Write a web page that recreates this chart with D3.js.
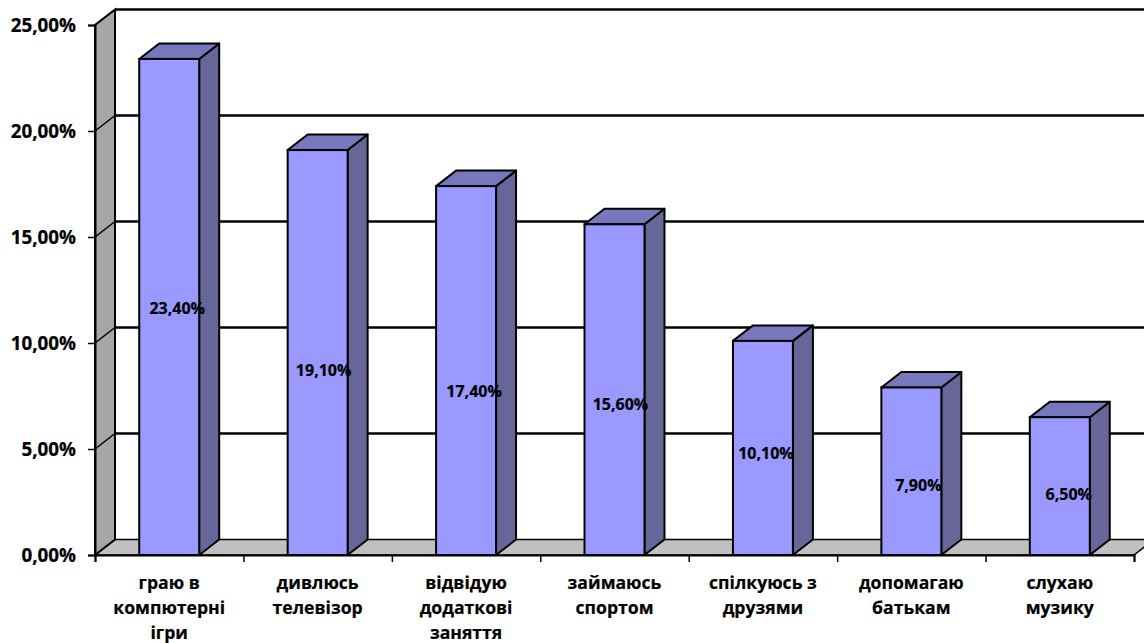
<!DOCTYPE html>
<html>
<head>
<meta charset="utf-8">
<script src="https://cdn.jsdelivr.net/npm/d3@7/dist/d3.min.js"></script>
<style>
body { margin: 0; background: #fff; overflow: hidden; }
svg { display: block; }
text { font-family: "Open Sans", sans-serif; font-weight: 700; fill: #000; stroke: #000; stroke-width: 0.2px; }
</style>
</head>
<body>
<div id="chart"></div>
<script>
var categories = [
	["граю в", "компютерні", "ігри"],
	["дивлюсь", "телевізор"],
	["відвідую", "додаткові", "заняття"],
	["займаюсь", "спортом"],
	["спілкуюсь з", "друзями"],
	["допомагаю", "батькам"],
	["слухаю", "музику"]
];
var values = [23.4, 19.1, 17.4, 15.6, 10.1, 7.9, 6.5];
var yTicks = [0, 5, 10, 15, 20, 25];

var svg_width = 1144;
var svg_height = 643;
var svg = d3.select("#chart").append("svg").attr("width", svg_width).attr("height", svg_height);

var left = 95, right = 1134, bottom = 555, top_ = 25;
var dx = 20, dy = -15.5;   // depth of the fake 3d box

var y = d3.scaleLinear().domain([0, 25]).range([bottom, top_]);
var x = d3.scaleBand().domain(d3.range(categories.length)).range([left, right])
	.paddingInner(0.596).paddingOuter(0.298);
var xEdge = d3.scaleLinear().domain([0, categories.length]).range([left, right]);

function pct(d) {
	return d3.format(".2f")(d).replace(".", ",") + "%";
}
function poly(pts) {
	return pts.map(function(p) { return p.join(","); }).join(" ");
}

// floor
svg.append("polygon")
	.attr("points", poly([[left, bottom], [left + dx, bottom + dy], [right + dx, bottom + dy], [right, bottom]]))
	.attr("fill", "#c0c0c0").attr("stroke", "#000").attr("stroke-width", 1.5);

// side wall
svg.append("polygon")
	.attr("points", poly([[left, bottom], [left + dx, bottom + dy], [left + dx, top_ + dy], [left, top_]]))
	.attr("fill", "#a6a6a6").attr("stroke", "#000").attr("stroke-width", 2);

// gridlines
var grid = svg.append("g").selectAll("g").data(yTicks.slice(1)).enter().append("g");
grid.append("line")
	.attr("x1", left + dx).attr("x2", svg_width)
	.attr("y1", function(d) { return y(d) + dy; })
	.attr("y2", function(d) { return y(d) + dy; })
	.attr("stroke", "#000").attr("stroke-width", 2.4);
grid.append("line")
	.attr("x1", left).attr("x2", left + dx)
	.attr("y1", function(d) { return y(d); })
	.attr("y2", function(d) { return y(d) + dy; })
	.attr("stroke", "#000").attr("stroke-width", 1.5);

// bars
var bar = svg.append("g").selectAll("g").data(values).enter().append("g");
bar.append("polygon")
	.attr("points", function(d, i) {
		var x0 = x(i) + x.bandwidth();
		return poly([[x0, bottom], [x0 + dx, bottom + dy], [x0 + dx, y(d) + dy], [x0, y(d)]]);
	})
	.attr("fill", "#666699").attr("stroke", "#000").attr("stroke-width", 2).attr("stroke-linejoin", "round");
bar.append("polygon")
	.attr("points", function(d, i) {
		var x0 = x(i), x1 = x0 + x.bandwidth();
		return poly([[x0, y(d)], [x0 + dx, y(d) + dy], [x1 + dx, y(d) + dy], [x1, y(d)]]);
	})
	.attr("fill", "#7777bb").attr("stroke", "#000").attr("stroke-width", 2).attr("stroke-linejoin", "round");
bar.append("rect")
	.attr("x", function(d, i) { return x(i); })
	.attr("y", function(d) { return y(d); })
	.attr("width", x.bandwidth())
	.attr("height", function(d) { return bottom - y(d); })
	.attr("fill", "#9999ff").attr("stroke", "#000").attr("stroke-width", 2);

// data labels sit a bit off the bar middle in the original
var nudgeX = [8, 6, 8, 6, 3, 7, 9];
var nudgeY = [1, 18, 21, 15, 5, 14, 8];
bar.append("text")
	.attr("x", function(d, i) { return x(i) + x.bandwidth() / 2 + nudgeX[i]; })
	.attr("y", function(d, i) { return (y(d) + bottom) / 2 + nudgeY[i]; })
	.attr("dy", "0.35em")
	.attr("text-anchor", "middle")
	.style("font-size", "16px")
	.text(pct);

// axes
var yAxis = d3.axisLeft(y).tickValues(yTicks).tickSize(7).tickPadding(12).tickFormat(pct);
var gy = svg.append("g").attr("transform", "translate(" + left + ",0)").call(yAxis);
gy.select(".domain").attr("stroke-width", 2);
gy.selectAll(".tick line").attr("stroke-width", 1.5);
gy.selectAll("text")
	.style("font-size", "18.8px").style("font-family", "\"Open Sans\", sans-serif");

var xAxis = d3.axisBottom(xEdge).ticks(categories.length).tickSize(7).tickFormat("");
var gx = svg.append("g").attr("transform", "translate(0," + bottom + ")").call(xAxis);
gx.select(".domain").attr("stroke-width", 2);
gx.selectAll(".tick line").attr("stroke-width", 1.5);

// category labels
var cat = svg.append("g").selectAll("text").data(categories).enter().append("text")
	.attr("text-anchor", "middle")
	.style("font-size", "17.6px");
cat.selectAll("tspan").data(function(d, i) {
		return d.map(function(line) { return {line: line, i: i}; });
	}).enter().append("tspan")
	.attr("x", function(d) { return x(d.i) + x.bandwidth() / 2; })
	.attr("y", function(d, j) { return 589 + j * 25; })
	.text(function(d) { return d.line; });
</script>
</body>
</html>
